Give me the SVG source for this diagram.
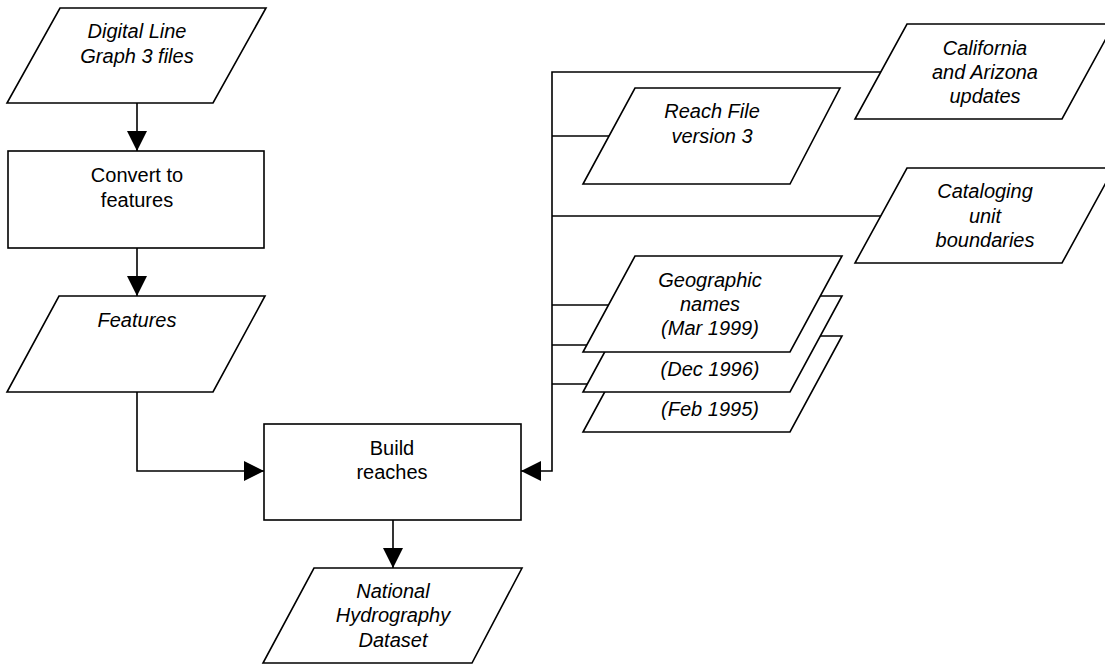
<svg xmlns="http://www.w3.org/2000/svg" width="1105" height="664" viewBox="0 0 1105 664">
  <style>
    .shape { fill: #ffffff; stroke: #000000; stroke-width: 1.6; stroke-linejoin: miter; }
    .conn { fill: none; stroke: #000000; stroke-width: 1.6; }
    .t { font-family: "Liberation Sans", Arial, sans-serif; font-size: 20px; fill: #000000; text-anchor: middle; }
    .i { font-style: italic; }
  </style>
  <defs>
    <marker id="arr" markerUnits="userSpaceOnUse" markerWidth="20" markerHeight="20" refX="20" refY="10" orient="auto">
      <path d="M0,0 L20,10 L0,20 z" fill="#000000"/>
    </marker>
  </defs>
  <rect x="0" y="0" width="1105" height="664" fill="#ffffff"/>

  <g id="connectors">
    <path class="conn" d="M137,103 L137,151" marker-end="url(#arr)"/>
    <path class="conn" d="M137,248 L137,296" marker-end="url(#arr)"/>
    <path class="conn" d="M137,392 L137,471 L264,471" marker-end="url(#arr)"/>
    <path class="conn" d="M393,520 L393,568" marker-end="url(#arr)"/>
    <path class="conn" d="M881,72 L552,72 L552,471 L521,471" marker-end="url(#arr)"/>
    <path class="conn" d="M552,136 L609,136"/>
    <path class="conn" d="M552,216 L881,216"/>
    <path class="conn" d="M552,305 L608,305"/>
    <path class="conn" d="M552,345 L608,345"/>
    <path class="conn" d="M552,384 L609,384"/>
  </g>

  <g id="dlg">
    <polygon class="shape" points="60,8 266,8 213,103 7,103"/>
    <text class="t i" x="137" y="38">Digital Line</text>
    <text class="t i" x="137" y="63">Graph 3 files</text>
  </g>

  <g id="convert">
    <rect class="shape" x="8" y="151" width="256" height="97"/>
    <text class="t" x="137" y="182">Convert to</text>
    <text class="t" x="137" y="207">features</text>
  </g>

  <g id="features">
    <polygon class="shape" points="59,296 265,296 213,392 7,392"/>
    <text class="t i" x="137" y="327">Features</text>
  </g>

  <g id="build">
    <rect class="shape" x="264" y="424" width="257" height="96"/>
    <text class="t" x="392" y="455">Build</text>
    <text class="t" x="392" y="479">reaches</text>
  </g>

  <g id="nhd">
    <polygon class="shape" points="314,568 522,568 472,663 263,663"/>
    <text class="t i" x="393" y="598">National</text>
    <text class="t i" x="393" y="622">Hydrography</text>
    <text class="t i" x="393" y="647">Dataset</text>
  </g>

  <g id="california">
    <polygon class="shape" points="907,24 1114,24 1062,119 855,119"/>
    <text class="t i" x="985" y="55">California</text>
    <text class="t i" x="985" y="79">and Arizona</text>
    <text class="t i" x="985" y="103">updates</text>
  </g>

  <g id="reachfile">
    <polygon class="shape" points="635,88 840,88 790,184 583,184"/>
    <text class="t i" x="712" y="118">Reach File</text>
    <text class="t i" x="712" y="143">version 3</text>
  </g>

  <g id="cataloging">
    <polygon class="shape" points="907,168 1114,168 1062,263 855,263"/>
    <text class="t i" x="985" y="198">Cataloging</text>
    <text class="t i" x="985" y="223">unit</text>
    <text class="t i" x="985" y="247">boundaries</text>
  </g>

  <g id="geo-feb1995">
    <polygon class="shape" points="635,336 842,336 790,432 583,432"/>
    <text class="t i" x="710" y="416">(Feb 1995)</text>
  </g>

  <g id="geo-dec1996">
    <polygon class="shape" points="635,296 842,296 790,392 583,392"/>
    <text class="t i" x="710" y="376">(Dec 1996)</text>
  </g>

  <g id="geo-mar1999">
    <polygon class="shape" points="635,256 842,256 790,352 583,352"/>
    <text class="t i" x="710" y="287">Geographic</text>
    <text class="t i" x="710" y="311">names</text>
    <text class="t i" x="710" y="335">(Mar 1999)</text>
  </g>
</svg>
